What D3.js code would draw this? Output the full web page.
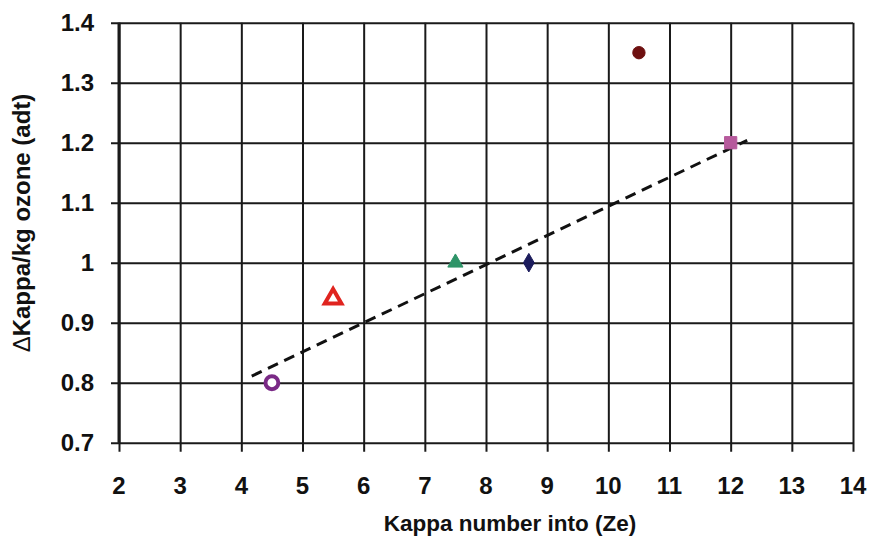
<!DOCTYPE html>
<html>
<head>
<meta charset="utf-8">
<script src="https://cdn.jsdelivr.net/npm/d3@7"></script>
<style>
  body { margin: 0; background: #fff; }
  svg { display: block; }
</style>
</head>
<body>
<div id="chart"></div>
<script>
// data
const kappaIn = [4.5, 5.5, 7.5, 8.7, 10.5, 12];
const kappaPerOzone = [0.8, 0.94, 1.0, 1.0, 1.35, 1.2];
const markerKinds = ["openCircle", "openTriangle", "triangle", "diamond", "circle", "square"];
const markerColors = ["#7a2a86", "#e0241f", "#2e9468", "#1c1c5c", "#6e1010", "#b65a9c"];
const trendX = [4.17, 12.27];
const trendY = [0.811, 1.204];
const xTicks = [2, 3, 4, 5, 6, 7, 8, 9, 10, 11, 12, 13, 14];
const yTicks = [0.7, 0.8, 0.9, 1.0, 1.1, 1.2, 1.3, 1.4];

const width = 873, height = 537;
const margin = {top: 22.7, right: 20, bottom: 94.3, left: 119};

const x = d3.scaleLinear().domain([2, 14]).range([margin.left, width - margin.right]);
const y = d3.scaleLinear().domain([0.7, 1.4]).range([height - margin.bottom, margin.top]);

const svg = d3.select("#chart").append("svg")
    .attr("width", width)
    .attr("height", height)
    .attr("font-family", "'Liberation Sans', Arial, sans-serif")
    .attr("font-weight", "bold");

// grid: vertical lines run down past the axis as ticks
svg.append("g")
    .attr("transform", `translate(0,${y(0.7)})`)
    .call(d3.axisBottom(x).tickValues(xTicks).tickSize(-(y(0.7) - y(1.4))).tickSizeOuter(0).tickFormat(""))
    .call(g => g.select(".domain").remove())
    .call(g => g.selectAll(".tick line").attr("stroke", "#1a1a1a").attr("stroke-width", 2).attr("y2", -(y(0.7) - y(1.4))).attr("y1", 9));

svg.append("g")
    .attr("transform", `translate(${x(2)},0)`)
    .call(d3.axisLeft(y).tickValues(yTicks).tickSize(-(x(14) - x(2))).tickSizeOuter(0).tickFormat(""))
    .call(g => g.select(".domain").remove())
    .call(g => g.selectAll(".tick line").attr("stroke", "#1a1a1a").attr("stroke-width", 2).attr("x1", -8));

// thicker left axis
svg.append("line")
    .attr("x1", x(2)).attr("x2", x(2))
    .attr("y1", y(1.4)).attr("y2", y(0.7))
    .attr("stroke", "#1a1a1a").attr("stroke-width", 3);

// tick labels
svg.append("g")
  .selectAll("text")
  .data(xTicks)
  .join("text")
    .attr("x", d => x(d))
    .attr("y", 494)
    .attr("text-anchor", "middle")
    .attr("font-size", 24)
    .attr("fill", "#111")
    .text(d => d);

svg.append("g")
  .selectAll("text")
  .data(yTicks)
  .join("text")
    .attr("x", 94)
    .attr("y", d => y(d))
    .attr("dy", "0.35em")
    .attr("text-anchor", "end")
    .attr("font-size", 24)
    .attr("fill", "#111")
    .text(d => d3.format("")(+d.toFixed(1)));

// axis titles
svg.append("text")
    .attr("x", 510)
    .attr("y", 531)
    .attr("text-anchor", "middle")
    .attr("font-size", 22.5)
    .attr("fill", "#111")
    .text("Kappa number into (Ze)");

svg.append("text")
    .attr("transform", `translate(30,223) rotate(-90)`)
    .attr("text-anchor", "middle")
    .attr("font-size", 24)
    .attr("fill", "#111")
    .call(t => t.append("tspan").attr("font-weight", "normal").text("\u0394"))
    .call(t => t.append("tspan").text("Kappa/kg ozone (adt)"));

// dashed trend line
svg.append("path")
    .datum(d3.zip(trendX, trendY))
    .attr("fill", "none")
    .attr("stroke", "#111")
    .attr("stroke-width", 3)
    .attr("stroke-dasharray", "11,7")
    .attr("d", d3.line().x(d => x(d[0])).y(d => y(d[1])));

// markers
const symbolFor = {
  openCircle: d3.symbol(d3.symbolCircle, 130),
  openTriangle: d3.symbol(d3.symbolTriangle, 120),
  triangle: d3.symbol(d3.symbolTriangle, 100),
  diamond: d3.symbol(d3.symbolDiamond, 100),
  circle: d3.symbol(d3.symbolCircle, 120),
  square: d3.symbol(d3.symbolSquare, 150)
};

svg.append("g")
  .selectAll("path")
  .data(kappaIn)
  .join("path")
    .attr("transform", (d, i) => `translate(${x(d)},${y(kappaPerOzone[i])})`)
    .attr("d", (d, i) => symbolFor[markerKinds[i]]())
    .attr("fill", (d, i) => markerKinds[i].startsWith("open") ? "#fff" : markerColors[i])
    .attr("stroke", (d, i) => markerColors[i])
    .attr("stroke-width", (d, i) => markerKinds[i].startsWith("open") ? 4 : 1);
</script>
</body>
</html>
